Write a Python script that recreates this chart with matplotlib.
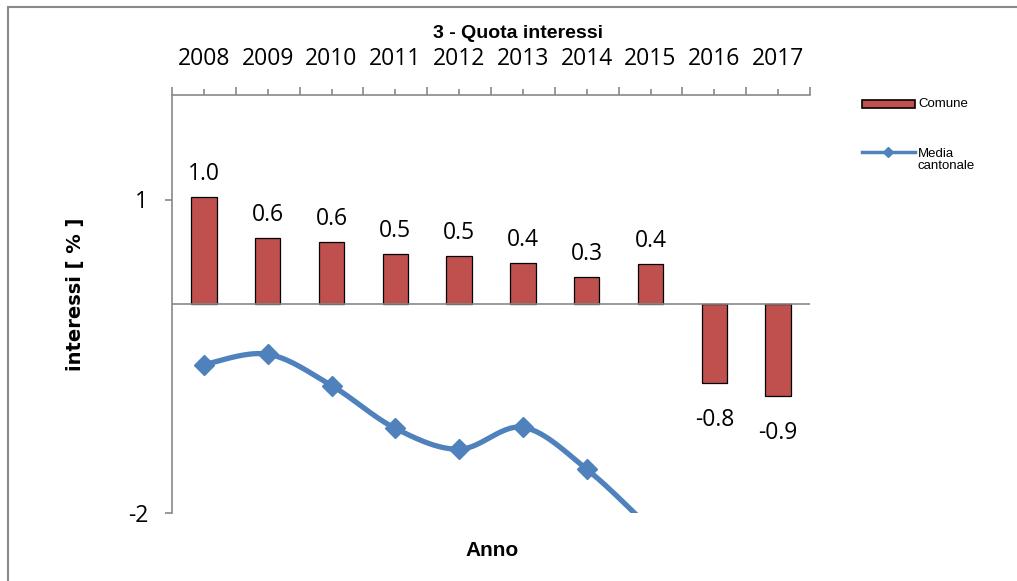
import numpy as np
import matplotlib.pyplot as plt
from matplotlib.patches import Rectangle
from matplotlib.lines import Line2D

anni = ['2008', '2009', '2010', '2011', '2012', '2013', '2014', '2015', '2016', '2017']
comune = [1.02, 0.63, 0.59, 0.48, 0.46, 0.39, 0.26, 0.38, -0.76, -0.88]
media_cantonale = [-0.58, -0.48, -0.78, -1.19, -1.39, -1.18, -1.58, -2.15, np.nan, np.nan]

red = '#C0504D'
blue = '#4F81BD'
grey = '#898989'


def smooth(xs, ys, n=30):
    # excel-like smoothed line (catmull-rom via bezier control points)
    pts = np.column_stack([xs, ys])
    out = []
    for i in range(len(pts) - 1):
        p0 = pts[max(i - 1, 0)]
        p1 = pts[i]
        p2 = pts[i + 1]
        p3 = pts[min(i + 2, len(pts) - 1)]
        c1 = p1 + (p2 - p0) / 6
        c2 = p2 - (p3 - p1) / 6
        t = np.linspace(0, 1, n)[:, None]
        seg = (1 - t) ** 3 * p1 + 3 * (1 - t) ** 2 * t * c1 + 3 * (1 - t) * t ** 2 * c2 + t ** 3 * p2
        out.append(seg)
    out = np.vstack(out)
    return out[:, 0], out[:, 1]


fig = plt.figure(figsize=(10.17, 5.81), dpi=100)
ax = fig.add_axes([172 / 1017, 1 - 513 / 581, (810 - 172) / 1017, (513 - 95) / 581])

x = np.arange(len(anni))
ax.bar(x, comune, width=0.4, color=red, edgecolor='black', linewidth=0.9, zorder=2)
ax.axhline(0, color=grey, linewidth=1.2, zorder=3)

for xi, v in zip(x, comune):
    ax.annotate('%.1f' % v, (xi, v), xytext=(0, 8 if v > 0 else -18), textcoords='offset points',
                ha='center', va='bottom' if v > 0 else 'top', fontsize=16.5, family='Open Sans')

mask = ~np.isnan(media_cantonale)
xm = x[mask]
ym = np.array(media_cantonale)[mask]
sx, sy = smooth(xm, ym)
ax.plot(sx, sy, color=blue, linewidth=3.8, zorder=4, solid_capstyle='butt')
ax.plot(xm, ym, linestyle='none', marker='D', markersize=10, color=blue, zorder=5)

ax.set_xlim(-0.5, len(anni) - 0.5)
ax.set_ylim(-2, 2)

ax.xaxis.set_ticks_position('top')
ax.xaxis.set_label_position('top')
ax.set_xticks(x)
ax.set_xticklabels(anni, family='Open Sans', fontsize=16.5)
ax.set_xticks(np.arange(-0.5, len(anni)), minor=True)
ax.tick_params(axis='x', which='major', length=4, width=1.2, color=grey, pad=13)
ax.tick_params(axis='x', which='minor', length=6, width=1.2, color=grey)

ax.set_yticks([-2, 1])
ax.set_yticklabels(['-2', '1'], family='Open Sans', fontsize=16.5)
ax.tick_params(axis='y', length=5, width=1.2, color=grey, pad=12)

for s in ['right', 'bottom']:
    ax.spines[s].set_visible(False)
for s in ['left', 'top']:
    ax.spines[s].set_color(grey)
    ax.spines[s].set_linewidth(1.2)

fig.text(518 / 1017, 1 - 33 / 581, '3 - Quota interessi', ha='center', va='center',
         fontsize=14, fontweight='bold', family='Liberation Sans')
fig.text(492 / 1017, 1 - 551 / 581, 'Anno', ha='center', va='center',
         fontsize=15, fontweight='bold', family='Liberation Sans')
fig.text(76 / 1017, 1 - 294 / 581, 'interessi [ % ]', ha='center', va='center', rotation=90,
         fontsize=14, fontweight='bold', family='DejaVu Sans')

# legend drawn by hand to match the layout
fig.add_artist(Rectangle((862 / 1017, 1 - 108 / 581), 53 / 1017, 8 / 581, transform=fig.transFigure,
                         facecolor=red, edgecolor='black', linewidth=1.2))
fig.text(918 / 1017, 1 - 104 / 581, 'Comune', ha='left', va='center', fontsize=9.5, family='Liberation Sans')
fig.add_artist(Line2D([862 / 1017, 915 / 1017], [1 - 152 / 581] * 2, transform=fig.transFigure,
                      color=blue, linewidth=2.5))
fig.add_artist(Line2D([888 / 1017], [1 - 152 / 581], transform=fig.transFigure,
                      color=blue, marker='D', markersize=5, linestyle='none'))
fig.text(918 / 1017, 1 - 160 / 581, 'Media\ncantonale', ha='left', va='center', fontsize=9.5,
         family='Liberation Sans', linespacing=1.1)

# chart area border
fig.add_artist(Rectangle((8 / 1017, -0.1), 1.2, 1 - 7 / 581 + 0.1, transform=fig.transFigure,
                         fill=False, edgecolor=grey, linewidth=1.5))

fig.savefig('out.png', dpi=100)
